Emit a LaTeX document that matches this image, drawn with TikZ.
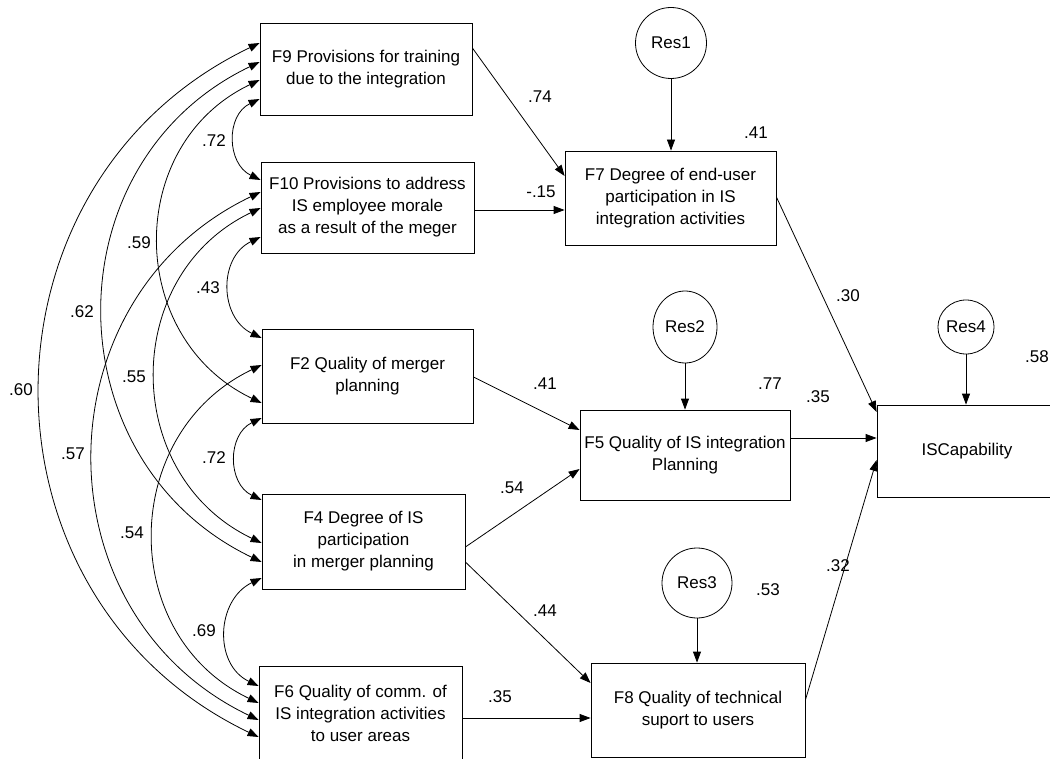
\documentclass[tikz,border=0pt]{standalone}
\usepackage{fontspec}
\setmainfont{Liberation Sans}
\usetikzlibrary{arrows.meta,calc,shapes.geometric}
\begin{document}
\begin{tikzpicture}[x=1pt,y=-1pt,
  font=\fontsize{17}{22}\selectfont,
  box/.style={draw, line width=0.8pt, align=center, inner sep=0pt},
  res/.style={draw, ellipse, line width=0.8pt, inner sep=0pt},
  lbl/.style={inner sep=0pt},
  path/.style={line width=0.8pt, -{Triangle[length=11pt,width=8pt]}},
  cov/.style={line width=0.8pt, {Triangle[length=11pt,width=8pt]}-{Triangle[length=11pt,width=8pt]}},
]
\useasboundingbox (0,0) rectangle (1050,759);
\clip (0,0) rectangle (1050,759);

% exogenous boxes
\node[box, minimum width=212pt, minimum height=92pt] (F9) at (366,69) {F9 Provisions for training\\due to the integration};
\node[box, minimum width=213pt, minimum height=91pt] (F10) at (367.5,207.5) {F10 Provisions to address\\IS employee morale\\as a result of the meger};
\node[box, minimum width=211pt, minimum height=94pt] (F2) at (367.5,376) {F2 Quality of merger\\planning};
\node[box, minimum width=203pt, minimum height=95pt] (F4) at (363.5,541.5) {F4 Degree of IS\\participation\\in merger planning};
\node[box, minimum width=203pt, minimum height=94pt] (F6) at (360.5,713) {F6 Quality of comm. of\\IS integration activities\\to user areas};

% endogenous boxes
\node[box, minimum width=211pt, minimum height=94pt] (F7) at (670.5,198) {F7 Degree of end-user\\participation in IS\\integration activities};
\node[box, minimum width=210pt, minimum height=90pt] (F5) at (685,455) {F5 Quality of IS integration\\Planning};
\node[box, minimum width=214pt, minimum height=94pt] (F8) at (698,710) {F8 Quality of technical\\suport to users};
\node[box, minimum width=180pt, minimum height=92pt] (ISC) at (967,451) {ISCapability};

% residuals
\node[res, minimum width=71pt, minimum height=71pt] (Res1) at (671,43) {Res1};
\node[res, minimum width=64pt, minimum height=72pt] (Res2) at (685,327) {Res2};
\node[res, minimum width=70pt, minimum height=70pt] (Res3) at (697,583) {Res3};
\node[res, minimum width=56pt, minimum height=54pt] (Res4) at (966,327) {Res4};

% residual arrows
\draw[path] (Res1) -- (Res1 |- F7.north);
\draw[path] (Res2) -- (Res2 |- F5.north);
\draw[path] (Res3) -- (Res3 |- F8.north);
\draw[path] (Res4) -- (Res4 |- ISC.north);

% regression paths
\draw[path] (F9.east |- 0,48) -- (F7.west |- 0,176);
\draw[path] (F10.east |- 0,210) -- (F7.west |- 0,210);
\draw[path] (F7.east |- 0,197) -- (ISC.west |- 0,412);
\draw[path] (F2.east |- 0,377) -- (F5.west |- 0,430);
\draw[path] (F4.east |- 0,547) -- (F5.west |- 0,469);
\draw[path] (F4.east |- 0,562) -- (F8.west |- 0,683);
\draw[path] (F6.east |- 0,718) -- (F8.west |- 0,718);
\draw[path] (F5.east |- 0,438) -- (ISC.west |- 0,438);
\draw[path] (F8.east |- 0,700) -- (ISC.west |- 0,460);

% covariances
\draw[cov] (F9.west |- 0,99) .. controls +(-34,16.3) and +(-34,-16.3) .. (F10.west |- 0,180);
\draw[cov] (F10.west |- 0,237) .. controls +(-42.4,20.3) and +(-42.4,-20.3) .. (F2.west |- 0,338);
\draw[cov] (F2.west |- 0,418) .. controls +(-34.4,16.5) and +(-34.4,-16.5) .. (F4.west |- 0,500);
\draw[cov] (F4.west |- 0,578) .. controls +(-45.4,21.7) and +(-45.4,-21.7) .. (F6.west |- 0,686);
\draw[cov] (F9.west |- 0,80) .. controls +(-135.7,64.9) and +(-135.7,-64.9) .. (F2.west |- 0,403);
\draw[cov] (F10.west |- 0,208) .. controls +(-140.7,67.3) and +(-140.7,-67.3) .. (F4.west |- 0,543);
\draw[cov] (F2.west |- 0,365) .. controls +(-142,67.9) and +(-142,-67.9) .. (F6.west |- 0,703);
\draw[cov] (F9.west |- 0,62) .. controls +(-210,100.5) and +(-210,-100.5) .. (F4.west |- 0,562);
\draw[cov] (F10.west |- 0,192) .. controls +(-221.8,106.1) and +(-221.8,-106.1) .. (F6.west |- 0,720);
\draw[cov] (F9.west |- 0,43) .. controls +(-291.5,139.5) and +(-291.5,-139.5) .. (F6.west |- 0,737);

% path coefficient labels
\node[lbl] (c1) at (540,97) {.74};
\node[lbl] (c2) at (541,192) {-.15};
\node[lbl] (c3) at (756,133) {.41};
\node[lbl] (c4) at (848,296) {.30};
\node[lbl] (c5) at (545,384) {.41};
\node[lbl] (c6) at (770,384) {.77};
\node[lbl] (c7) at (818,397) {.35};
\node[lbl, anchor=east] (c8) at (1049,357) {.58};
\node[lbl] (c9) at (512,488) {.54};
\node[lbl] (c10) at (545,611) {.44};
\node[lbl] (c11) at (838,566) {.32};
\node[lbl] (c12) at (768,590) {.53};
\node[lbl] (c13) at (500,697) {.35};

% correlation labels
\node[lbl] (r1) at (214,141) {.72};
\node[lbl] (r2) at (139,243) {.59};
\node[lbl] (r3) at (208,288) {.43};
\node[lbl] (r4) at (82,312) {.62};
\node[lbl] (r5) at (134,377) {.55};
\node[lbl] (r6) at (21,390) {.60};
\node[lbl] (r7) at (214,458) {.72};
\node[lbl] (r8) at (73,454) {.57};
\node[lbl] (r9) at (132,533) {.54};
\node[lbl] (r10) at (204,631) {.69};
\end{tikzpicture}
\end{document}
